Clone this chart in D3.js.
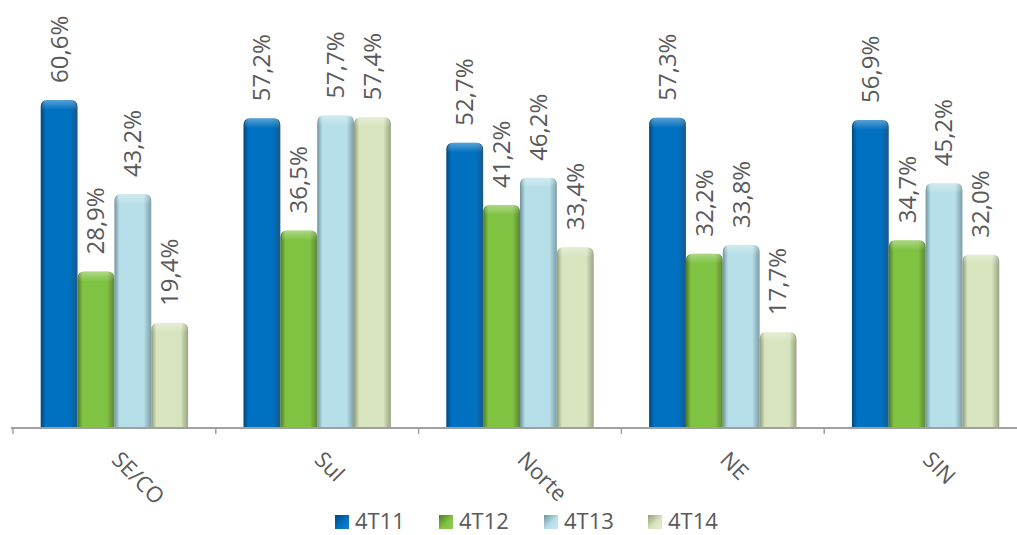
<!DOCTYPE html>
<html>
<head>
<meta charset="utf-8">
<script src="https://cdn.jsdelivr.net/npm/d3@7"></script>
<style>
  html, body { margin: 0; padding: 0; background: #ffffff; }
  svg { display: block; }
</style>
</head>
<body>
<svg id="chart" width="1017" height="535"></svg>
<script>
// ---- data ----
const categories = ["SE/CO", "Sul", "Norte", "NE", "SIN"];
const seriesNames = ["4T11", "4T12", "4T13", "4T14"];
const s4T11 = [60.6, 57.2, 52.7, 57.3, 56.9];
const s4T12 = [28.9, 36.5, 41.2, 32.2, 34.7];
const s4T13 = [43.2, 57.7, 46.2, 33.8, 45.2];
const s4T14 = [19.4, 57.4, 33.4, 17.7, 32.0];
const seriesValues = [s4T11, s4T12, s4T13, s4T14];

// ---- styles ----
const colors = [
  { main: "#0070c0", dark: "#00477d", light: "#1a80cc" },
  { main: "#80c343", dark: "#4c7a22", light: "#8fcd55" },
  { main: "#b7dfe9", dark: "#6f939c", light: "#c6e8f0" },
  { main: "#d7e4bd", dark: "#8f9a78", light: "#e3edcc" }
];
const textColor = "#595959";
const fontFam = "'Open Sans', 'DejaVu Sans', sans-serif";

const svg = d3.select("#chart");
const baseY = 428;
const x0 = d3.scaleBand().domain(categories).range([13, 1027]).paddingInner(0).paddingOuter(0);
const x1 = d3.scaleBand().domain(seriesNames).range([27.7, x0.bandwidth() - 27.7]).padding(0);
const y = d3.scaleLinear().domain([0, 70]).range([baseY, baseY - 70 * 5.414]);

// gradients
const defs = svg.append("defs");
colors.forEach((c, i) => {
  const g = defs.append("linearGradient").attr("id", "bar" + i)
    .attr("x1", "0%").attr("x2", "100%").attr("y1", "0%").attr("y2", "0%");
  g.append("stop").attr("offset", "0%").attr("stop-color", c.dark);
  g.append("stop").attr("offset", "14%").attr("stop-color", c.main);
  g.append("stop").attr("offset", "80%").attr("stop-color", c.main);
  g.append("stop").attr("offset", "100%").attr("stop-color", c.dark).attr("stop-opacity", 0.9);
  const t = defs.append("linearGradient").attr("id", "top" + i)
    .attr("x1", "0%").attr("x2", "0%").attr("y1", "0%").attr("y2", "100%");
  t.append("stop").attr("offset", "0%").attr("stop-color", "#ffffff").attr("stop-opacity", 0.35);
  t.append("stop").attr("offset", "100%").attr("stop-color", "#ffffff").attr("stop-opacity", 0);
  const l = defs.append("linearGradient").attr("id", "leg" + i)
    .attr("x1", "0%").attr("x2", "100%").attr("y1", "0%").attr("y2", "100%");
  l.append("stop").attr("offset", "0%").attr("stop-color", c.dark);
  l.append("stop").attr("offset", "55%").attr("stop-color", c.main);
  l.append("stop").attr("offset", "100%").attr("stop-color", c.light);
});

function barPath(x, yTop, w, h, r) {
  r = Math.min(r, w / 2, h);
  return `M${x},${yTop + h} L${x},${yTop + r} Q${x},${yTop} ${x + r},${yTop} ` +
         `L${x + w - r},${yTop} Q${x + w},${yTop} ${x + w},${yTop + r} L${x + w},${yTop + h} Z`;
}

// bars
const groups = svg.append("g").selectAll("g").data(categories).join("g")
  .attr("transform", d => `translate(${x0(d)},0)`);

groups.each(function(cat, ci) {
  const g = d3.select(this);
  seriesNames.forEach((s, si) => {
    const v = seriesValues[si][ci];
    const bx = x1(s), bw = x1.bandwidth();
    const top = y(v), h = baseY - top;
    g.append("path").attr("d", barPath(bx, top, bw, h, 7)).attr("fill", `url(#bar${si})`);
    g.append("path").attr("d", barPath(bx + 1, top, bw - 2, Math.min(10, h), 7)).attr("fill", `url(#top${si})`);
    g.append("text")
      .attr("transform", `translate(${bx + bw / 2},${top - 17}) rotate(-90)`)
      .attr("dy", "0.35em")
      .attr("text-anchor", "start")
      .attr("font-family", fontFam).attr("font-size", 24).attr("fill", textColor)
      .text(v.toFixed(1).replace(".", ",") + "%");
  });
});

// axis
const axis = d3.axisBottom(x0).tickSize(6).tickSizeOuter(0).tickFormat("");
const ax = svg.append("g").attr("transform", `translate(0,${baseY})`).call(axis);
ax.select(".domain").remove();
ax.selectAll(".tick").remove();
ax.append("line").attr("x1", 11).attr("x2", 1017).attr("y1", 0).attr("y2", 0)
  .attr("stroke", "#a0a0a0").attr("stroke-width", 2);
categories.forEach(c => {
  ax.append("line").attr("x1", x0(c)).attr("x2", x0(c)).attr("y1", 0).attr("y2", 6)
    .attr("stroke", "#a0a0a0").attr("stroke-width", 1.5);
});

// category labels
svg.append("g").selectAll("text").data(categories).join("text")
  .attr("transform", d => `translate(${x0(d) + x0.bandwidth() / 2 - 4},${461}) rotate(45)`)
  .attr("text-anchor", "start")
  .attr("font-family", fontFam).attr("font-size", 22).attr("fill", textColor)
  .text(d => d);

// legend
const legendX = [335, 439, 544, 648];
const leg = svg.append("g").selectAll("g").data(seriesNames).join("g")
  .attr("transform", (d, i) => `translate(${legendX[i]},515)`);
leg.append("rect").attr("width", 14).attr("height", 14).attr("fill", (d, i) => `url(#leg${i})`);
leg.append("text").attr("x", 20).attr("y", 14)
  .attr("font-family", fontFam).attr("font-size", 22).attr("fill", textColor)
  .text(d => d);
</script>
</body>
</html>
